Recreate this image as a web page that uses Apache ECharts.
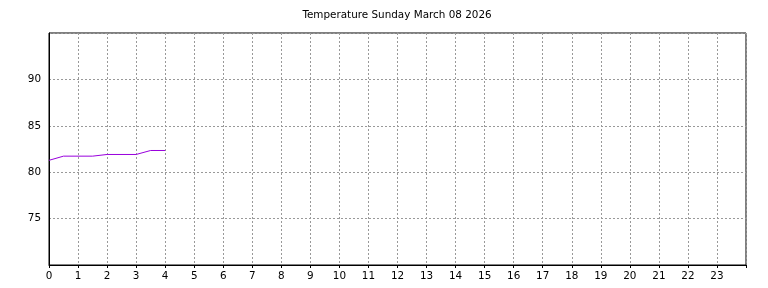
<!DOCTYPE html>
<html><head><meta charset="utf-8">
<script src="https://cdn.jsdelivr.net/npm/echarts@6/dist/echarts.min.js"></script>
<style>html,body{margin:0;padding:0;background:#fff}#c{width:768px;height:288px}</style>
</head><body><div id="c"></div>
<script>
const titleText = 'Temperature Sunday March 08 2026';
const hours = [0, 0.5, 1.5, 2, 3, 3.5, 4];
const temps = [81.28, 81.73, 81.73, 81.91, 81.91, 82.34, 82.34];
const yTicks = [75, 80, 85, 90];

const chart = echarts.init(document.getElementById('c'), null, {renderer: 'canvas'});
const font = 'DejaVu Sans';
chart.setOption({
  animation: false,
  backgroundColor: '#fff',
  title: {text: titleText, left: 392, top: 5, textAlign: 'center',
    textStyle: {fontFamily: font, fontSize: 10.4, fontWeight: 'normal', color: '#000'}},
  grid: {left: 49, right: 22, top: 33, bottom: 23, show: true, borderColor: '#000', borderWidth: 1},
  xAxis: {type: 'value', min: 0, max: 24, interval: 1,
    axisLine: {show: true, lineStyle: {color: '#000', width: 1}},
    axisTick: {show: true, length: 3, inside: false, lineStyle: {color: '#000'}},
    axisLabel: {fontFamily: font, fontSize: 10.4, color: '#000', margin: 6,
      formatter: v => v >= 24 ? '' : String(v)},
    splitLine: {show: true, lineStyle: {color: '#999', type: [2, 2], width: 1}}},
  yAxis: {type: 'value', min: 70, max: 95, interval: 5,
    axisLine: {show: true, lineStyle: {color: '#000', width: 1}},
    axisTick: {show: false},
    axisLabel: {fontFamily: font, fontSize: 10.4, color: '#000', margin: 8,
      formatter: v => yTicks.includes(v) ? String(v) : ''},
    splitLine: {show: true, lineStyle: {color: '#999', type: [2, 2], width: 1}}},
  series: [{type: 'line', data: hours.map((h, i) => [h, temps[i]]),
    symbol: 'none', lineStyle: {color: '#9900dd', width: 1}}]
});
</script></body></html>
